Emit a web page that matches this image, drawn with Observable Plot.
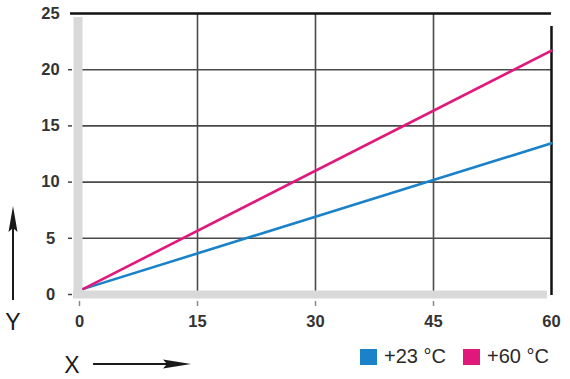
<!DOCTYPE html>
<html>
<head>
<meta charset="utf-8">
<script src="https://cdn.jsdelivr.net/npm/d3@7"></script>
<script src="https://cdn.jsdelivr.net/npm/@observablehq/plot@0.6"></script>
<style>
  html, body { margin: 0; padding: 0; background: #fff; }
  #wrap { position: relative; width: 570px; height: 379px; font-family: "Liberation Sans", Arial, sans-serif; }
  #wrap svg.plot { position: absolute; left: 0; top: 0; }
  .leg { position: absolute; top: 345px; display: flex; align-items: center; font-size: 20px; color: #2a2a2a; white-space: nowrap; }
  .sw { width: 17px; height: 16px; margin-right: 7px; }
</style>
</head>
<body>
<div id="wrap"></div>
<script>
// Data
const series = ["+23 °C", "+60 °C"];
const colors = ["#1a82c8", "#e2177b"];
const xValues = [0.5, 60];
const y23 = [0.5, 13.45];
const y60 = [0.5, 21.7];
const xTicks = [0, 15, 30, 45, 60];
const yTicks = [0, 5, 10, 15, 20, 25];
const xGrid = [15, 30, 45];
const yGrid = [5, 10, 15, 20];

const data = [
  ...xValues.map((x, i) => ({x, y: y23[i], s: series[0]})),
  ...xValues.map((x, i) => ({x, y: y60[i], s: series[1]}))
];

const tickFont = {fontSize: 16.5, fontWeight: "bold", fill: "#333"};

const chart = Plot.plot({
  width: 570,
  height: 379,
  marginLeft: 79,
  marginRight: 19,
  marginTop: 13,
  marginBottom: 85,
  style: {fontFamily: "Liberation Sans, Arial, sans-serif", background: "white", overflow: "visible"},
  x: {type: "linear", domain: [0, 60]},
  y: {type: "linear", domain: [0, 25]},
  color: {domain: series, range: colors},
  marks: [
    // grid
    Plot.ruleX(xGrid, {stroke: "#4a4a4a", strokeWidth: 1.6, y1: 0, y2: 25}),
    Plot.ruleY(yGrid, {stroke: "#4a4a4a", strokeWidth: 1.6, x1: 0, x2: 60}),
    // gray bands
    Plot.ruleX([0], {stroke: "#d9d9d9", strokeWidth: 9, y1: 0, y2: 25, dx: -1.5, insetTop: 3, insetBottom: -4}),
    Plot.ruleY([0], {stroke: "#d9d9d9", strokeWidth: 8, x1: 0, x2: 60, insetLeft: -6, insetRight: 4}),
    // borders
    Plot.ruleY([25], {x1: 0, x2: 60, stroke: "#111", strokeWidth: 2.5, insetLeft: -9}),
    Plot.ruleX([60], {y1: 0, y2: 25, stroke: "#111", strokeWidth: 2.5, insetBottom: -13, insetTop: 1}),
    // axes
    Plot.axisY(yTicks.slice(0, -1), {tickSize: 4, tickPadding: 18, dx: -7, textAnchor: "middle", ...tickFont, stroke: "#444", strokeWidth: 1.5, label: null}),
    Plot.axisY([25], {tickSize: 0, tickPadding: 29, textAnchor: "middle", ...tickFont, label: null}),
    Plot.axisX(xTicks.slice(0, -1), {tickSize: 5, tickPadding: 9, dy: 7, ...tickFont, stroke: "#888", strokeWidth: 1.5, label: null}),
    Plot.axisX([60], {tickSize: 0, tickPadding: 14, dy: 7, ...tickFont, label: null}),
    // series lines
    Plot.line(data, {x: "x", y: "y", z: "s", stroke: "s", strokeWidth: 2.6})
  ]
});
chart.classList.add("plot");
const wrap = document.getElementById("wrap");
wrap.appendChild(chart);

// Axis labels with arrows (annotation overlay)
const ns = "http://www.w3.org/2000/svg";
const over = document.createElementNS(ns, "svg");
over.setAttribute("width", 570); over.setAttribute("height", 379);
over.style.position = "absolute"; over.style.left = "0"; over.style.top = "0";
over.innerHTML = `
  <line x1="13" y1="300" x2="13" y2="225" stroke="#1a1a1a" stroke-width="2"/>
  <path d="M13,206 L17.5,232 L13,228 L8.5,232 Z" fill="#1a1a1a"/>
  <line x1="93" y1="364" x2="170" y2="364" stroke="#1a1a1a" stroke-width="2"/>
  <path d="M191,364 L163,359.5 L167,364 L163,368.5 Z" fill="#1a1a1a"/>
  <text x="13" y="330" text-anchor="middle" font-size="23" fill="#1a1a1a" font-family="Liberation Sans, Arial, sans-serif">Y</text>
  <text x="72" y="373" text-anchor="middle" font-size="23" fill="#1a1a1a" font-family="Liberation Sans, Arial, sans-serif">X</text>`;
wrap.appendChild(over);

// Legend
const legendX = [360, 463];
series.forEach((s, i) => {
  const d = document.createElement("div");
  d.className = "leg";
  d.style.left = legendX[i] + "px";
  d.innerHTML = `<span class="sw" style="background:${colors[i]}"></span><span>${s}</span>`;
  wrap.appendChild(d);
});
</script>
</body>
</html>
